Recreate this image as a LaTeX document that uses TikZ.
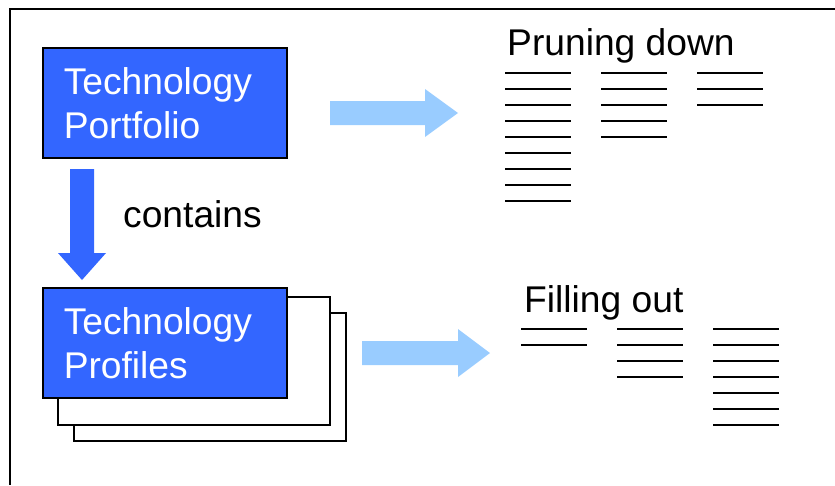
\documentclass[tikz,border=0pt]{standalone}
\usepackage{fontspec}
\setmainfont{Liberation Sans}
\usepackage{tikz}
\usetikzlibrary{positioning}
\definecolor{techblue}{HTML}{3366FF}
\definecolor{paleblue}{HTML}{99CCFF}
\tikzset{
    big text/.style={font=\fontsize{37.2}{44}\selectfont},
    tech box/.style={rectangle, draw=black, line width=1.5pt, fill=techblue, text=white,
        big text, align=left, text width=202pt, inner xsep=21pt, inner ysep=0pt,
        minimum height=110pt, anchor=north west},
    back sheet/.style={draw=black, line width=1.5pt, fill=white},
    label text/.style={big text, inner sep=0pt, anchor=base west},
    rule/.style={line width=1.6pt, black},
    down arrow/.style={fill=techblue},
    pale arrow/.style={fill=paleblue}
}
\begin{document}
\begin{tikzpicture}[x=1pt,y=-1pt]
    \useasboundingbox (0,0) rectangle (835,485);
    % frame
    \draw[line width=2pt] (835,9) -- (10,9) -- (10,485);
    % boxes on the left
    \node[tech box] (portfolio) at (42,47) {Technology\\Portfolio};
    \draw[back sheet] (74,313) rectangle (346,441);
    \draw[back sheet] (58,297) rectangle (330,425);
    \node[tech box] (profiles) at (42,287) {Technology\\Profiles};
    % contains
    \fill[down arrow] (70,169) -- (94,169) -- (94,253) -- (106,253) -- (82,280)
        -- (58,253) -- (70,253) -- cycle;
    \node[label text] (contains) at (123,227) {contains};
    % pruning down
    \fill[pale arrow] (330,101) -- (425,101) -- (425,89) -- (458,113) -- (425,137)
        -- (425,125) -- (330,125) -- cycle;
    \node[label text] (pruning) at (507,55) {Pruning down};
    \foreach \i in {0,...,8}
        \draw[rule] (505,{73+16*\i}) -- ++(66,0);
    \foreach \i in {0,...,4}
        \draw[rule] (601,{73+16*\i}) -- ++(66,0);
    \foreach \i in {0,...,2}
        \draw[rule] (697,{73+16*\i}) -- ++(66,0);
    % filling out
    \fill[pale arrow] (362,341) -- (458,341) -- (458,329) -- (490,353) -- (458,377)
        -- (458,365) -- (362,365) -- cycle;
    \node[label text] (filling) at (524,312) {Filling out};
    \foreach \i in {0,...,1}
        \draw[rule] (521,{329+16*\i}) -- ++(66,0);
    \foreach \i in {0,...,3}
        \draw[rule] (617,{329+16*\i}) -- ++(66,0);
    \foreach \i in {0,...,6}
        \draw[rule] (713,{329+16*\i}) -- ++(66,0);
\end{tikzpicture}
\end{document}
